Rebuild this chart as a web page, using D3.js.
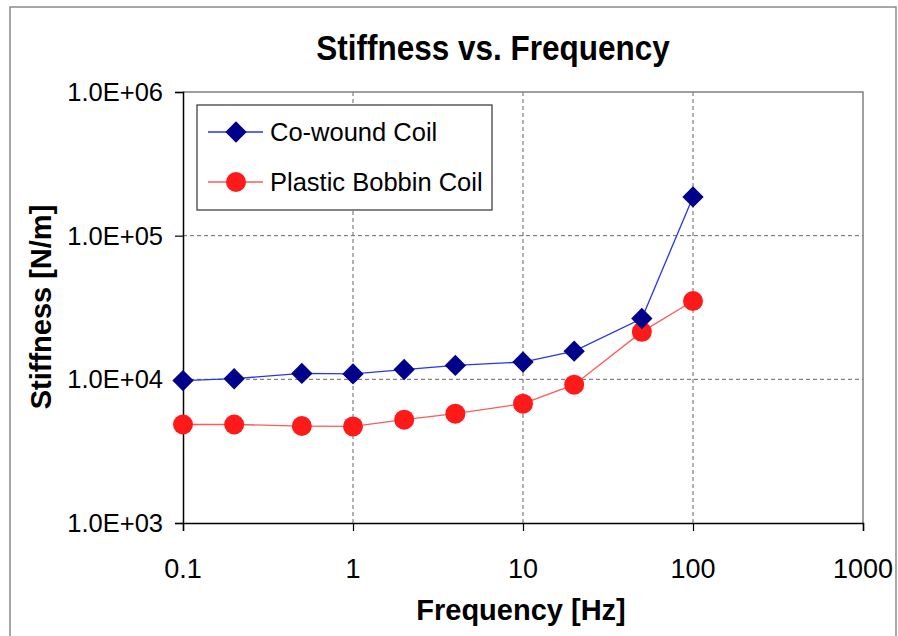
<!DOCTYPE html>
<html>
<head>
<meta charset="utf-8">
<script src="https://cdn.jsdelivr.net/npm/d3@7"></script>
<style>
  body { margin: 0; background: #fff; }
  text { font-family: Arial, "Liberation Sans", sans-serif; fill: #000; }
</style>
</head>
<body>
<script>
// data
const frequency = [0.1, 0.2, 0.5, 1, 2, 4, 10, 20, 50, 100];
const coWound = [9800, 10100, 11000, 10900, 11700, 12500, 13200, 15700, 26500, 186000];
const plasticBobbin = [4850, 4850, 4730, 4700, 5240, 5770, 6770, 9180, 21400, 35100];
const xTicks = [0.1, 1, 10, 100, 1000];
const yTicks = [1e3, 1e4, 1e5, 1e6];
const seriesNames = ["Co-wound Coil", "Plastic Bobbin Coil"];

const width = 898, height = 636;
const plot = { left: 183, right: 863, top: 92, bottom: 523 };

const svg = d3.select("body").append("svg")
  .attr("width", width)
  .attr("height", height);

// outer chart frame
svg.append("rect")
  .attr("x", 10).attr("y", 7)
  .attr("width", 886).attr("height", 640)
  .attr("fill", "#fff")
  .attr("stroke", "#8a8a8a")
  .attr("stroke-width", 1.5);

const x = d3.scaleLog().domain([0.1, 1000]).range([plot.left, plot.right]);
const y = d3.scaleLog().domain([1e3, 1e6]).range([plot.bottom, plot.top]);

// text with a small vertical stretch, the scan is a bit taller than wide
function label(tx, ty, str, size, opts) {
  opts = opts || {};
  const sy = opts.sy || 1, rot = opts.rot || 0;
  return svg.append("text")
    .attr("transform", "translate(" + tx + "," + ty + ") rotate(" + rot + ") scale(1," + sy + ")")
    .attr("text-anchor", opts.anchor || "start")
    .attr("font-size", size)
    .attr("font-weight", opts.bold ? "bold" : "normal")
    .text(str);
}

// gridlines
const grid = svg.append("g")
  .attr("stroke", "#666")
  .attr("stroke-width", 1)
  .attr("stroke-dasharray", "4,3");

grid.selectAll(".gx")
  .data(xTicks.slice(1, -1))
  .enter().append("line")
    .attr("x1", d => x(d)).attr("x2", d => x(d))
    .attr("y1", plot.top).attr("y2", plot.bottom);

grid.selectAll(".gy")
  .data(yTicks.slice(1, -1))
  .enter().append("line")
    .attr("x1", plot.left).attr("x2", plot.right)
    .attr("y1", d => y(d)).attr("y2", d => y(d));

// top and right border of the plot area
svg.append("path")
  .attr("d", "M" + plot.left + "," + plot.top + "H" + plot.right + "V" + plot.bottom)
  .attr("fill", "none")
  .attr("stroke", "#808080")
  .attr("stroke-width", 1.5);

// axes
const xAxis = d3.axisBottom(x).tickValues(xTicks).tickSize(8).tickFormat("");
const yAxis = d3.axisLeft(y).tickValues(yTicks).tickSize(8).tickFormat("");

svg.append("g")
  .attr("transform", "translate(0," + plot.bottom + ")")
  .call(xAxis)
  .call(g => g.select(".domain").attr("stroke", "#000").attr("stroke-width", 1.5))
  .call(g => g.selectAll(".tick line").attr("stroke", "#000").attr("stroke-width", 1.2));

svg.append("g")
  .attr("transform", "translate(" + plot.left + ",0)")
  .call(yAxis)
  .call(g => g.select(".domain").attr("stroke", "#000").attr("stroke-width", 1.5))
  .call(g => g.selectAll(".tick line").attr("stroke", "#000").attr("stroke-width", 1.2));

// tick labels
xTicks.forEach(d => label(x(d), 578, String(d), 27, { anchor: "middle", sy: 1.02 }));
yTicks.forEach(d => {
  const txt = d.toExponential(1).toUpperCase().replace(/E\+(\d)$/, "E+0$1");
  label(163, y(d) + 9, txt, 25.5, { anchor: "end", sy: 1.0 });
});

// titles
label(493, 60, "Stiffness vs. Frequency", 31.5, { anchor: "middle", bold: true, sy: 1.1 });
label(521, 620, "Frequency [Hz]", 29, { anchor: "middle", bold: true, sy: 1.0 });
label(51, 307, "Stiffness [N/m]", 29, { anchor: "middle", bold: true, rot: -90, sy: 1.0 });

// series
const line = d3.line()
  .x(d => x(d[0]))
  .y(d => y(d[1]));

const diamond = d3.symbol().type(d3.symbolDiamond2).size(290);

svg.append("path")
  .datum(d3.zip(frequency, coWound))
  .attr("d", line)
  .attr("fill", "none")
  .attr("stroke", "#2a35e8")
  .attr("stroke-width", 1.3);

svg.append("path")
  .datum(d3.zip(frequency, plasticBobbin))
  .attr("d", line)
  .attr("fill", "none")
  .attr("stroke", "#ff5a5a")
  .attr("stroke-width", 1.3);

svg.selectAll(".red")
  .data(d3.zip(frequency, plasticBobbin))
  .enter().append("circle")
    .attr("cx", d => x(d[0]))
    .attr("cy", d => y(d[1]))
    .attr("r", 10)
    .attr("fill", "#ff1a1a");

svg.selectAll(".blue")
  .data(d3.zip(frequency, coWound))
  .enter().append("path")
    .attr("d", diamond)
    .attr("transform", d => "translate(" + x(d[0]) + "," + y(d[1]) + ")")
    .attr("fill", "#00008a");

// legend
const legend = svg.append("g").attr("transform", "translate(197,105)");
legend.append("rect")
  .attr("width", 295).attr("height", 105)
  .attr("fill", "#fff")
  .attr("stroke", "#333")
  .attr("stroke-width", 1.2);

const rows = [
  { name: seriesNames[0], color: "#2a35e8", y: 27 },
  { name: seriesNames[1], color: "#ff5a5a", y: 77 }
];
rows.forEach((r, i) => {
  legend.append("line")
    .attr("x1", 11).attr("x2", 66)
    .attr("y1", r.y).attr("y2", r.y)
    .attr("stroke", r.color).attr("stroke-width", 1.3);
  if (i === 0) {
    legend.append("path")
      .attr("d", diamond)
      .attr("transform", "translate(39," + r.y + ")")
      .attr("fill", "#00008a");
  } else {
    legend.append("circle")
      .attr("cx", 39).attr("cy", r.y).attr("r", 10)
      .attr("fill", "#ff1a1a");
  }
  legend.append("text")
    .attr("x", 73).attr("y", r.y + 9)
    .attr("font-size", 25.5)
    .text(r.name);
});
</script>
</body>
</html>
